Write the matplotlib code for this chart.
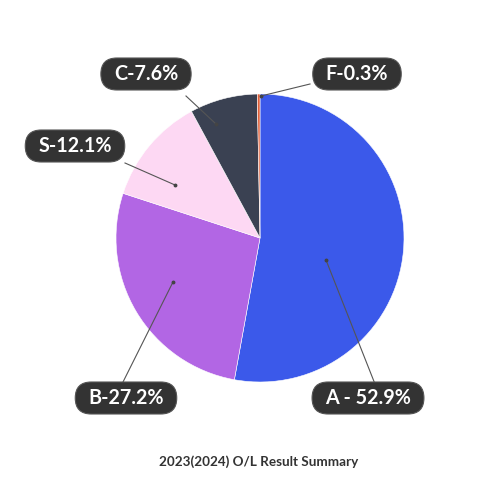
import matplotlib
matplotlib.use("Agg")
import matplotlib.pyplot as plt
from matplotlib.patches import FancyBboxPatch

categories = ["A", "B", "S", "C", "F"]
values = [52.9, 27.2, 12.1, 7.6, 0.3]
labels = ["A - 52.9%", "B-27.2%", "S-12.1%", "C-7.6%", "F-0.3%"]
colors = ["#3B59EA", "#B266E4", "#FDD8F3", "#3A4152", "#E0603A"]
title = "2023(2024) O/L Result Summary"

# layout (pixel coords, y from top)
W = H = 500
center = (260, 238)
radius = 144
anchors = [(326, 260), (173, 282), (175, 185), (216, 124), (261, 96)]
line_ends = [(375, 384), (122, 384), (125, 163), (186, 96), (310, 84)]
box_pos = [(368, 398), (126, 398), (75, 146), (146, 74), (357, 74)]
pad_x, box_h = 13, 32

plt.rcParams['font.family'] = ['Lato', 'DejaVu Sans']
fig = plt.figure(figsize=(5, 5), dpi=100)
ax = fig.add_axes([0, 0, 1, 1])

ax.pie(values, colors=colors, startangle=90, counterclock=False,
       center=(center[0], H - center[1]), radius=radius,
       wedgeprops=dict(edgecolor='#ffffff', linewidth=0.4), frame=True)
ax.set_xlim(0, W)
ax.set_ylim(0, H)
ax.set_aspect('equal')
ax.axis('off')

fig.canvas.draw()
renderer = fig.canvas.get_renderer()

r = box_h / 2
for lab, a, e, b in zip(labels, anchors, line_ends, box_pos):
    ax.plot([a[0], e[0]], [H - a[1], H - e[1]], color='#555555', lw=0.8, zorder=3)
    ax.plot([a[0]], [H - a[1]], 'o', color='#444444', ms=1.8, zorder=4)
    t = ax.text(b[0], H - b[1], lab, ha='center', va='center', color='white',
                fontsize=14.2, fontweight='bold', zorder=6)
    w = t.get_window_extent(renderer=renderer).width + 2 * pad_x
    ax.add_patch(FancyBboxPatch((b[0] - w / 2 + r, H - b[1]), w - 2 * r, 0,
                                boxstyle=f'round,pad={r},rounding_size={r}',
                                fc='#333333', ec='#555555', lw=0.8, zorder=5))

ax.text(259, H - 462, title, ha='center', va='center', color='#333333',
        fontsize=9.7, fontweight='bold')

fig.savefig('out.png', dpi=100)
